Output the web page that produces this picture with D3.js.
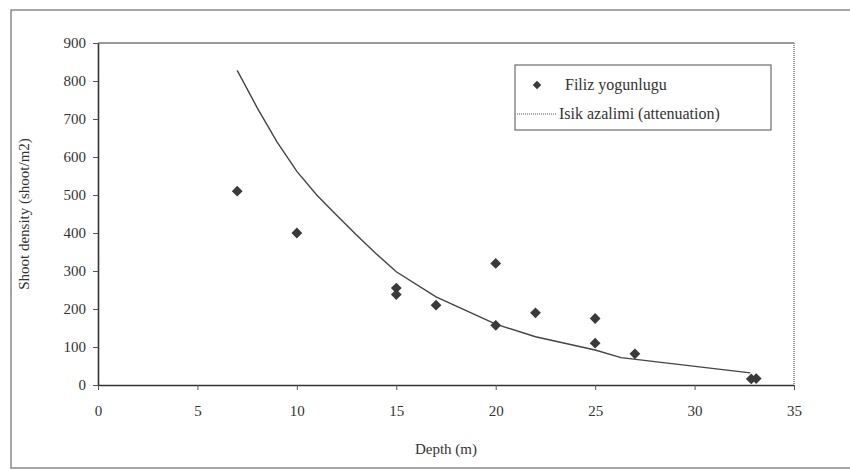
<!DOCTYPE html>
<html>
<head>
<meta charset="utf-8">
<script src="https://cdn.jsdelivr.net/npm/d3@7"></script>
<style>
  body { margin: 0; background: #fff; }
  text { font-family: "Liberation Serif", "DejaVu Serif", serif; fill: #333; }
</style>
</head>
<body>
<div id="chart"></div>
<script>
// measured shoot density vs depth
var depth   = [7, 10, 15, 15, 17, 20, 20, 22, 25, 25, 27, 32.85, 33.1];
var density = [510, 400, 255, 238, 210, 320, 157, 190, 175, 110, 82, 16, 17];

// light attenuation curve
var lineDepth = [7, 8, 9, 10, 11, 12, 13, 14, 15, 17, 20, 22, 25, 26.3, 32.8];
var lineValue = [828, 730, 640, 562, 500, 447, 395, 345, 298, 232, 160, 127, 92, 72, 32];

var xTicks = [0, 5, 10, 15, 20, 25, 30, 35];
var yTicks = [0, 100, 200, 300, 400, 500, 600, 700, 800, 900];

var svgWidth = 850;
var svgHeight = 470;
var margin = { top: 43, right: 56, bottom: 85, left: 98 };
var chartWidth = svgWidth - margin.left - margin.right;
var chartHeight = svgHeight - margin.top - margin.bottom;

var svg = d3.select("#chart").append("svg")
  .attr("width", svgWidth)
  .attr("height", svgHeight);

// outer frame
svg.append("rect")
  .attr("x", 11).attr("y", 10)
  .attr("width", 860).attr("height", 458)
  .attr("fill", "none")
  .attr("stroke", "#888")
  .attr("stroke-width", 1.5);

var g = svg.append("g")
  .attr("transform", `translate(${margin.left}, ${margin.top})`);

var x = d3.scaleLinear().domain([0, 35]).range([0, chartWidth]);
var y = d3.scaleLinear().domain([0, 900]).range([chartHeight, 0]);

// plot area top and right border
g.append("line")
  .attr("x1", 0).attr("x2", chartWidth)
  .attr("y1", 0).attr("y2", 0)
  .attr("stroke", "#777").attr("stroke-width", 1.5);
g.append("line")
  .attr("x1", chartWidth).attr("x2", chartWidth)
  .attr("y1", 0).attr("y2", chartHeight)
  .attr("stroke", "#777").attr("stroke-width", 1.5)
  .attr("stroke-dasharray", "1,1");

// axes
var xAxis = g.append("g")
  .attr("transform", `translate(0, ${chartHeight})`)
  .call(d3.axisBottom(x).tickValues(xTicks).tickSize(5).tickSizeOuter(0));
var yAxis = g.append("g")
  .call(d3.axisLeft(y).tickValues(yTicks).tickSize(5).tickSizeOuter(0));

[xAxis, yAxis].forEach(function(a) {
  a.selectAll("path").attr("stroke", "#333").attr("stroke-width", 1.6);
  a.selectAll("line").attr("stroke", "#555");
  a.selectAll("text")
    .style("font-family", "Liberation Serif, serif")
    .style("font-size", "15px")
    .attr("fill", "#333");
});
xAxis.selectAll("text").attr("dy", "1.5em");
yAxis.selectAll("text").attr("x", -12);

// attenuation line
var pts = lineDepth.map(function(d, i) { return [d, lineValue[i]]; });
g.append("path")
  .datum(pts)
  .attr("fill", "none")
  .attr("stroke", "#444")
  .attr("stroke-width", 1.4)
  .attr("d", d3.line()
    .x(function(d) { return x(d[0]); })
    .y(function(d) { return y(d[1]); }));

// points: squares turned 45deg
var marker = d3.symbol().type(d3.symbolSquare).size(58);
g.selectAll(".pt")
  .data(depth)
  .enter()
  .append("path")
  .attr("class", "pt")
  .attr("d", marker)
  .attr("transform", function(d, i) {
    return `translate(${x(d)}, ${y(density[i])}) rotate(45)`;
  })
  .attr("fill", "#3a3a3a");

// axis titles
svg.append("text")
  .attr("transform", `translate(29, ${margin.top + chartHeight / 2}) rotate(-90)`)
  .style("text-anchor", "middle")
  .style("font-size", "15px")
  .text("Shoot density (shoot/m2)");

svg.append("text")
  .attr("x", margin.left + chartWidth / 2)
  .attr("y", 454)
  .style("text-anchor", "middle")
  .style("font-size", "15px")
  .text("Depth (m)");

// legend
var legend = svg.append("g").attr("transform", "translate(515, 65)");
legend.append("rect")
  .attr("width", 256).attr("height", 65)
  .attr("fill", "#fff")
  .attr("stroke", "#777")
  .attr("stroke-width", 1.3);
legend.append("path")
  .attr("d", d3.symbol().type(d3.symbolSquare).size(36))
  .attr("transform", "translate(22, 20) rotate(45)")
  .attr("fill", "#3a3a3a");
legend.append("text")
  .attr("x", 50).attr("y", 25)
  .style("font-size", "16px")
  .text("Filiz yogunlugu");
legend.append("line")
  .attr("x1", 2).attr("x2", 42)
  .attr("y1", 49).attr("y2", 49)
  .attr("stroke", "#555")
  .attr("stroke-width", 1.2)
  .attr("stroke-dasharray", "1,1");
legend.append("text")
  .attr("x", 44).attr("y", 54)
  .style("font-size", "16px")
  .text("Isik azalimi (attenuation)");
</script>
</body>
</html>
